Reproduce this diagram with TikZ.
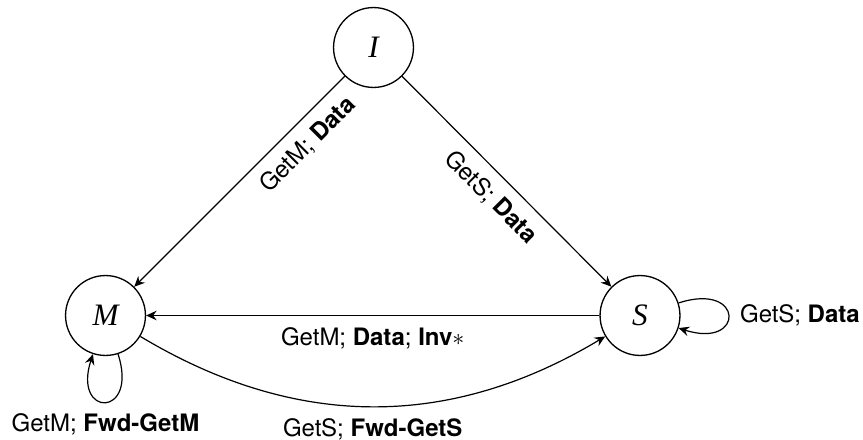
\documentclass[tikz,border=0pt]{standalone}
\usepackage{fontspec}
\setmainfont{TeX Gyre Heros}
\newfontfamily\tmsfont{Liberation Serif}
\usetikzlibrary{arrows.meta}
\begin{document}
\begin{tikzpicture}[x=0.4167pt,y=0.4167pt,
  state/.style={circle, draw, line width=0.55pt, minimum size=33.3pt, inner sep=0pt,
    font=\fontsize{13}{15}\tmsfont\itshape},
  arr/.style={-{Stealth[length=4.4pt,width=4pt,inset=1.5pt]}, line width=0.5pt},
  lab/.style={font=\fontsize{10}{12}\selectfont, inner sep=4.7pt}]
\useasboundingbox (0,0) rectangle (863,439);
\node[state] (I) at (373.5,391.5) {I};
\node[state] (M) at (105.5,123.5) {M};
\node[state] (S) at (640,123.5) {S};
\draw[arr] (I) -- node[lab, sloped, below, pos=0.25] (l1) {GetM; \textbf{Data}} (M);
\draw[arr] (I) -- node[lab, sloped, below, midway] (l2) {GetS; \textbf{Data}} (S);
\draw[arr] (S) -- node[lab, below] (l3) {GetM; \textbf{Data}; \textbf{Inv}$*$} (M);
\draw[arr] (M) to[bend right=31] node[lab, below] (l4) {GetS; \textbf{Fwd-GetS}} (S);
\draw[arr] (M) to[out=-72, in=-108, looseness=1, min distance=28pt] node[lab, below] (l5) {GetM; \textbf{Fwd-GetM}} (M);
\draw[arr] (S) to[out=18, in=-18, looseness=1, min distance=29pt] node[lab, right] (l6) {GetS; \textbf{Data}} (S);
\end{tikzpicture}
\end{document}
